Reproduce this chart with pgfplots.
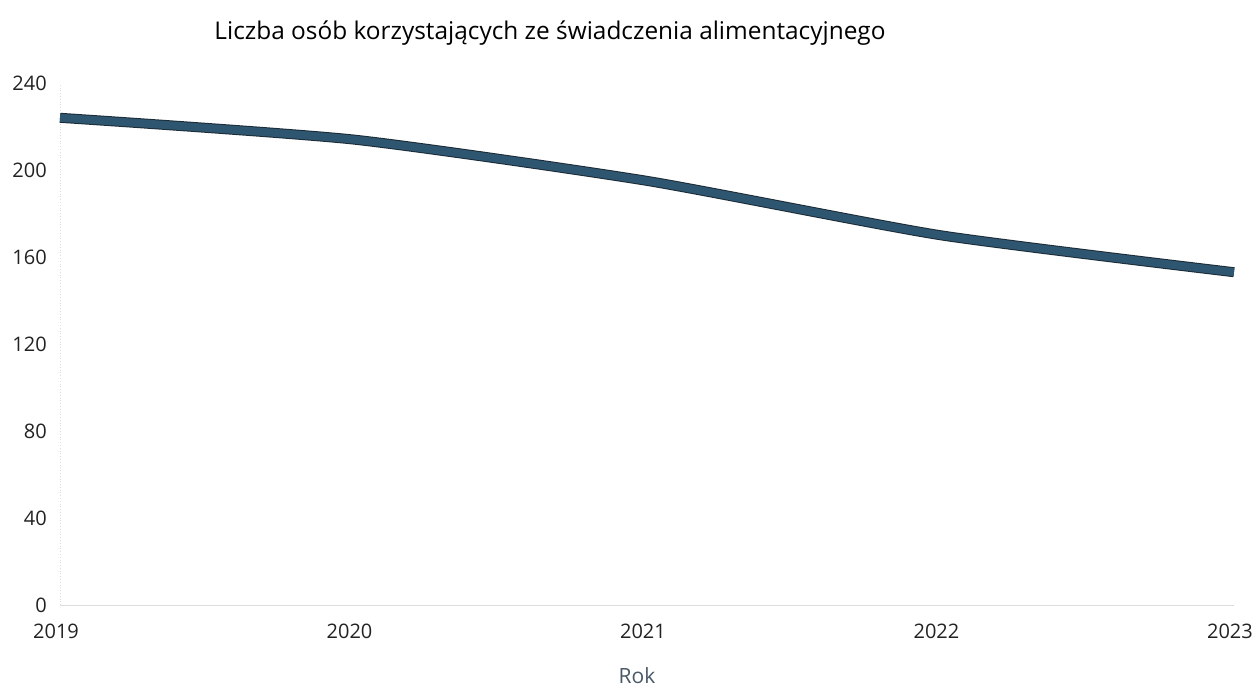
\documentclass[border=0pt]{standalone}
\usepackage{pgfplots}
\pgfplotsset{compat=1.18}
\usepackage{pgfplotstable}
\usepackage{fontspec}
\setmainfont{Open Sans}

\definecolor{linefill}{HTML}{2F5670}
\definecolor{lineedge}{HTML}{1B2B36}
\definecolor{axisgray}{HTML}{DDDDDD}
\definecolor{labelgray}{HTML}{4A5868}
\definecolor{ticktext}{HTML}{222222}

% number of people receiving maintenance-fund benefit, per year
\pgfplotstableread{
year value
2019 224
2020 214
2021 195
2022 170
2023 153
}\alimenty

\begin{document}
\begin{tikzpicture}
\path[use as bounding box] (0,0) rectangle (1258bp,688bp);
\begin{axis}[
  at={(60bp,83bp)}, anchor=south west,
  width=1174bp, height=522bp, scale only axis,
  xmin=2019, xmax=2023, ymin=0, ymax=240,
  xtick={2019,2020,2021,2022,2023},
  ytick={0,40,80,120,160,200,240},
  axis x line*=bottom, axis y line*=left,
  axis line style={axisgray, line width=0.8bp},
  y axis line style={dotted},
  major tick length=0pt,
  /pgf/number format/assume math mode=true,
  x tick label style={/pgf/number format/1000 sep={}, font=\fontsize{20bp}{24bp}\selectfont, text=ticktext,
    anchor=center, inner sep=0pt, yshift=-26bp, xshift=-4bp},
  y tick label style={font=\fontsize{20bp}{24bp}\selectfont, text=ticktext,
    anchor=east, inner sep=0pt, xshift=-13bp},
  clip=false,
]
\addplot[lineedge, line width=10bp, line cap=butt, line join=round, smooth, tension=0.35]
  table[x=year, y=value] {\alimenty};
\addplot[linefill, line width=8bp, line cap=butt, line join=round, smooth, tension=0.35]
  table[x=year, y=value] {\alimenty};
\end{axis}
\node[anchor=base, text=black, font=\fontsize{24.4bp}{28bp}\selectfont] at (550bp,648bp)
  {Liczba osób korzystających ze świadczenia alimentacyjnego};
\node[anchor=base, text=labelgray, font=\fontsize{21bp}{25bp}\selectfont] at (637bp,5bp) {Rok};
\end{tikzpicture}
\end{document}
